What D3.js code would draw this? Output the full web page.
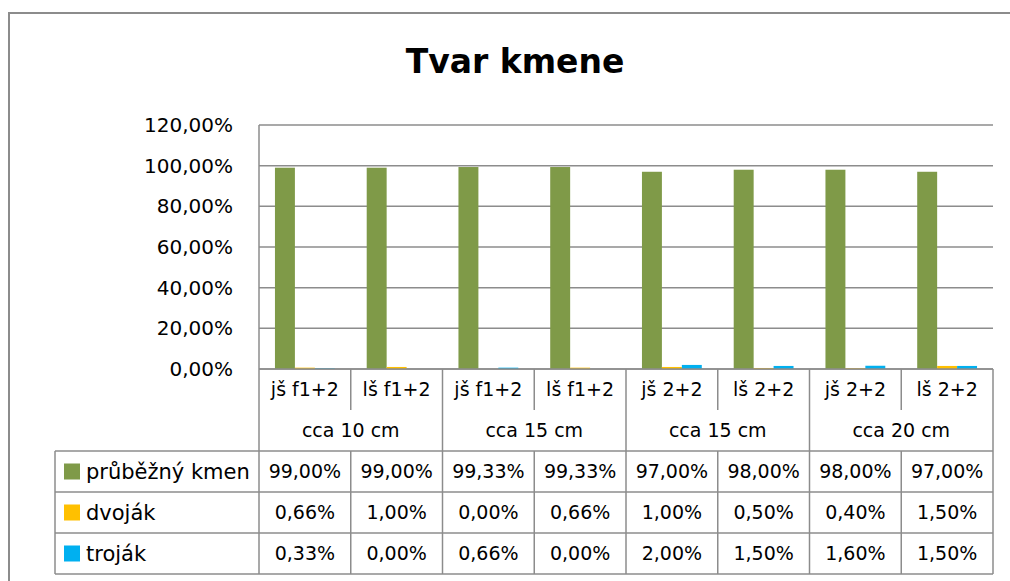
<!DOCTYPE html>
<meta charset="utf-8">
<style>
  body { margin: 0; background: #fff; overflow: hidden; }
  svg { display: block; }
  text { font-family: "DejaVu Sans", sans-serif; fill: #000; }
  .grid line { stroke: #8c8c8c; stroke-width: 1.5; }
  .tbl line { stroke: #8c8c8c; stroke-width: 1.5; }
</style>
<svg width="1010" height="581"></svg>
<script src="https://d3js.org/d3.v7.min.js"></script>
<script>
  // data
  var subLabels = ["jš f1+2", "lš f1+2", "jš f1+2", "lš f1+2", "jš 2+2", "lš 2+2", "jš 2+2", "lš 2+2"];
  var groupLabels = ["cca 10 cm", "cca 15 cm", "cca 15 cm", "cca 20 cm"];
  var seriesNames = ["průběžný kmen", "dvoják", "troják"];
  var seriesColors = ["#7f9a48", "#ffc000", "#00b0f0"];
  var prubezny = [0.99, 0.99, 0.9933, 0.9933, 0.97, 0.98, 0.98, 0.97];
  var dvojak = [0.0066, 0.01, 0.0, 0.0066, 0.01, 0.005, 0.004, 0.015];
  var trojak = [0.0033, 0.0, 0.0066, 0.0, 0.02, 0.015, 0.016, 0.015];
  var yTicks = [0, 0.2, 0.4, 0.6, 0.8, 1.0, 1.2];

  var values = [prubezny, dvojak, trojak];

  var svg = d3.select("svg");
  var locale = d3.formatLocale({ decimal: ",", thousands: " ", grouping: [3], currency: ["", ""] });
  var pct = locale.format(".2%");

  var plotLeft = 259, plotRight = 993, plotTop = 125, plotBottom = 369;
  var rowH = 41, legendLeft = 55;

  var cats = d3.range(subLabels.length);
  var x = d3.scaleBand().domain(cats).range([plotLeft, plotRight]);
  var xs = d3.scaleBand().domain(d3.range(seriesNames.length))
    .range([0, x.bandwidth()]).paddingInner(0).paddingOuter(0.8);
  var y = d3.scaleLinear().domain([0, 1.2]).range([plotBottom, plotTop]);

  // chart frame (right and bottom edges fall outside the picture)
  svg.append("path")
    .attr("d", "M9,581V13H1010")
    .attr("fill", "none").attr("stroke", "#8c8c8c").attr("stroke-width", 2);

  svg.append("text")
    .attr("x", 515).attr("y", 73)
    .attr("text-anchor", "middle")
    .style("font-size", "33px").style("font-weight", "bold")
    .text("Tvar kmene");

  // gridlines
  var grid = svg.append("g").attr("class", "grid");
  grid.selectAll("line").data(yTicks).enter().append("line")
    .attr("x1", plotLeft).attr("x2", plotRight)
    .attr("y1", function(d) { return y(d); })
    .attr("y2", function(d) { return y(d); });

  // y axis labels
  svg.append("g").selectAll("text").data(yTicks).enter().append("text")
    .attr("x", 233)
    .attr("y", function(d) { return y(d); })
    .attr("dy", "0.35em")
    .attr("text-anchor", "end")
    .style("font-size", "20px")
    .text(function(d) { return pct(d); });

  // bars
  svg.append("g").selectAll("g").data(values).enter().append("g")
    .attr("fill", function(d, i) { return seriesColors[i]; })
    .each(function(vals, si) {
      d3.select(this).selectAll("rect").data(vals).enter().append("rect")
        .attr("x", function(d, i) { return x(i) + xs(si); })
        .attr("width", xs.bandwidth())
        .attr("y", function(d) { return y(d); })
        .attr("height", function(d) { return plotBottom - y(d); });
    });

  // table
  var tbl = svg.append("g").attr("class", "tbl");
  var r1 = plotBottom, r2 = plotBottom + rowH, r3 = plotBottom + 2 * rowH;
  var tableBottom = r3 + seriesNames.length * rowH;

  tbl.append("line").attr("x1", plotLeft).attr("x2", plotRight).attr("y1", r1).attr("y2", r1);
  cats.concat([cats.length]).forEach(function(i) {
    var xx = i < cats.length ? x(i) : plotRight;
    if (i % 2 === 0) {
      tbl.append("line").attr("x1", xx).attr("x2", xx)
        .attr("y1", i === 0 ? plotTop : r1).attr("y2", tableBottom);
    } else {
      tbl.append("line").attr("x1", xx).attr("x2", xx).attr("y1", r1).attr("y2", r2);
      tbl.append("line").attr("x1", xx).attr("x2", xx).attr("y1", r3).attr("y2", tableBottom);
    }
  });
  d3.range(seriesNames.length + 1).forEach(function(k) {
    var yy = r3 + k * rowH;
    tbl.append("line").attr("x1", legendLeft).attr("x2", plotRight).attr("y1", yy).attr("y2", yy);
  });
  tbl.append("line").attr("x1", legendLeft).attr("x2", legendLeft).attr("y1", r3).attr("y2", tableBottom);

  // category labels
  svg.append("g").selectAll("text").data(subLabels).enter().append("text")
    .attr("x", function(d, i) { return x(i) + x.bandwidth() / 2; })
    .attr("y", r1 + rowH / 2)
    .attr("dy", "0.35em")
    .attr("text-anchor", "middle")
    .style("font-size", "19px")
    .text(function(d) { return d; });

  svg.append("g").selectAll("text").data(groupLabels).enter().append("text")
    .attr("x", function(d, i) { return x(i * 2) + x.bandwidth(); })
    .attr("y", r2 + rowH / 2)
    .attr("dy", "0.35em")
    .attr("text-anchor", "middle")
    .style("font-size", "19px")
    .text(function(d) { return d; });

  // data table rows
  values.forEach(function(vals, si) {
    var cy = r3 + si * rowH + rowH / 2;
    svg.append("rect")
      .attr("x", 64).attr("y", cy - 8).attr("width", 16).attr("height", 16)
      .attr("fill", seriesColors[si]);
    svg.append("text")
      .attr("x", 86).attr("y", cy).attr("dy", "0.35em")
      .style("font-size", "21px")
      .text(seriesNames[si]);
    svg.append("g").selectAll("text").data(vals).enter().append("text")
      .attr("x", function(d, i) { return x(i) + x.bandwidth() / 2; })
      .attr("y", cy).attr("dy", "0.35em")
      .attr("text-anchor", "middle")
      .style("font-size", "19px")
      .text(function(d) { return pct(d); });
  });
</script>
